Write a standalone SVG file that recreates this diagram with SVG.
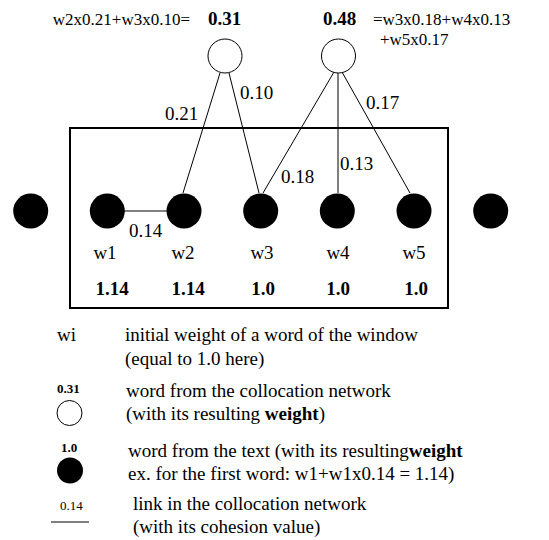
<svg xmlns="http://www.w3.org/2000/svg" width="549" height="540" viewBox="0 0 549 540">
  <style>
    text { font-family: "Liberation Serif", "Times New Roman", serif; fill: #000; }
    .f { font-size: 17px; }
    .t { font-size: 19px; }
    .b { font-size: 19px; font-weight: bold; }
    .sb { font-size: 13px; font-weight: bold; }
    .s { font-size: 13px; }
    .edge { stroke: #000; stroke-width: 1; fill: none; }
    .net { fill: #fff; stroke: #000; stroke-width: 1; }
    .word { fill: #000; }
  </style>
  <rect width="549" height="540" fill="#fff"/>

  <!-- window frame -->
  <rect x="70" y="128" width="378" height="180" fill="none" stroke="#000" stroke-width="2"/>

  <!-- connectors -->
  <g id="connectors">
    <line class="edge" x1="220" y1="73" x2="183" y2="193"/>
    <line class="edge" x1="229" y1="73" x2="259" y2="193"/>
    <line class="edge" x1="334" y1="72" x2="263" y2="193"/>
    <line class="edge" x1="338" y1="73" x2="338" y2="193"/>
    <line class="edge" x1="342" y1="72" x2="410" y2="193"/>
    <line class="edge" x1="124" y1="211" x2="167" y2="211"/>
    <text class="t" x="165" y="120">0.21</text>
    <text class="t" x="240" y="99">0.10</text>
    <text class="t" x="366" y="109">0.17</text>
    <text class="t" x="281" y="183">0.18</text>
    <text class="t" x="340" y="170">0.13</text>
    <text class="t" x="129" y="237">0.14</text>
  </g>

  <!-- collocation network words -->
  <g id="net1">
    <circle class="net" cx="225" cy="56" r="17"/>
    <text class="f" x="190" y="25" text-anchor="end">w2x0.21+w3x0.10=</text>
    <text class="b" x="208" y="25">0.31</text>
  </g>
  <g id="net2">
    <circle class="net" cx="338.5" cy="56" r="17"/>
    <text class="b" x="323" y="25">0.48</text>
    <text class="f" x="373" y="25">=w3x0.18+w4x0.13</text>
    <text class="f" x="380" y="45">+w5x0.17</text>
  </g>

  <!-- text words -->
  <g id="w0"><circle class="word" cx="30.7" cy="211" r="17.5"/></g>
  <g id="w1">
    <circle class="word" cx="107.3" cy="211" r="17.5"/>
    <text class="t" x="105" y="259" text-anchor="middle">w1</text>
    <text class="b" x="112" y="295" text-anchor="middle">1.14</text>
  </g>
  <g id="w2">
    <circle class="word" cx="184" cy="211" r="17.5"/>
    <text class="t" x="183" y="259" text-anchor="middle">w2</text>
    <text class="b" x="188" y="295" text-anchor="middle">1.14</text>
  </g>
  <g id="w3">
    <circle class="word" cx="260.7" cy="211" r="17.5"/>
    <text class="t" x="262" y="259" text-anchor="middle">w3</text>
    <text class="b" x="263" y="295" text-anchor="middle">1.0</text>
  </g>
  <g id="w4">
    <circle class="word" cx="337.3" cy="211" r="17.5"/>
    <text class="t" x="338" y="259" text-anchor="middle">w4</text>
    <text class="b" x="338" y="295" text-anchor="middle">1.0</text>
  </g>
  <g id="w5">
    <circle class="word" cx="414" cy="211" r="17.5"/>
    <text class="t" x="414" y="259" text-anchor="middle">w5</text>
    <text class="b" x="416" y="295" text-anchor="middle">1.0</text>
  </g>
  <g id="w6"><circle class="word" cx="490.7" cy="211" r="17.5"/></g>

  <!-- legend -->
  <g id="legend">
    <text class="t" x="57" y="341">wi</text>
    <text class="t" x="125" y="341">initial weight of a word of the window</text>
    <text class="t" x="125" y="365">(equal to 1.0 here)</text>

    <text class="sb" x="57" y="393">0.31</text>
    <circle class="net" cx="69.5" cy="413" r="12.5"/>
    <text class="t" x="126" y="397">word from the collocation network</text>
    <text class="t" x="126" y="420">(with its resulting <tspan font-weight="bold">weight</tspan>)</text>

    <text class="sb" x="61" y="452">1.0</text>
    <circle class="word" cx="70" cy="470.5" r="13"/>
    <text class="t" x="128" y="457">word from the text (with its resulting<tspan font-weight="bold">weight</tspan></text>
    <text class="t" x="128" y="480">ex. for the first word: w1+w1x0.14 = 1.14)</text>

    <text class="s" x="60" y="510">0.14</text>
    <line class="edge" x1="51" y1="522" x2="89" y2="522"/>
    <text class="t" x="133" y="510">link in the collocation network</text>
    <text class="t" x="133" y="533">(with its cohesion value)</text>
  </g>
</svg>
